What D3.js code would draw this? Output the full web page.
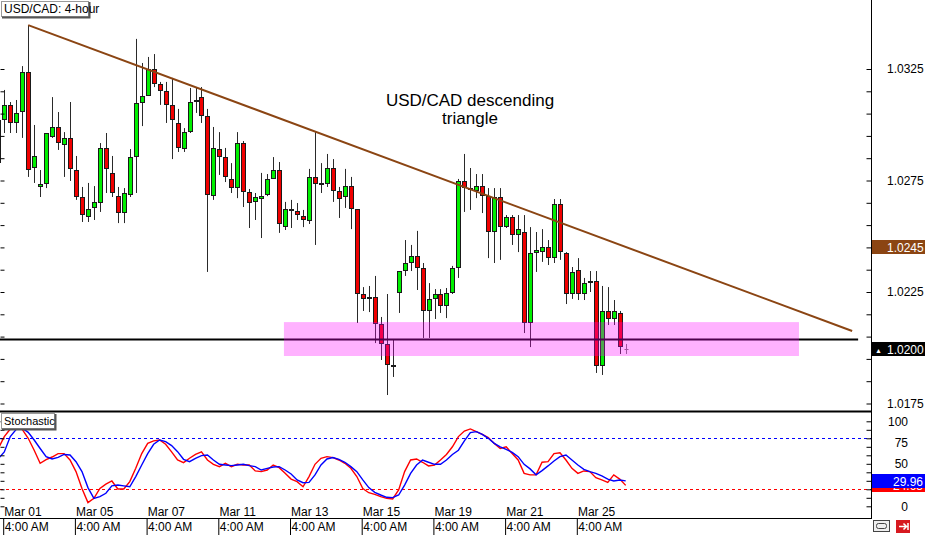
<!DOCTYPE html>
<html>
<head>
<meta charset="utf-8">
<style>
body { margin: 0; background: #fff; }
svg text { font-family: "Liberation Sans", Arial, sans-serif; }
.axis path.domain { display: none; }
.axis line { stroke: #000; }
.axis text { font-size: 12px; fill: #000; }
</style>
</head>
<body>
<script src="https://cdn.jsdelivr.net/npm/d3@7"></script>
<script>
// USD/CAD 4-hour candles, bar 0 = Mar 01 00:00
var opens  = [1.02828,1.03021,1.03089,1.03008,1.03057,1.03237,1.02806,1.02721,1.02734,1.02945,
              1.02990,1.02909,1.02941,1.02797,1.02676,1.02586,1.02627,1.02649,1.02896,1.02784,
              1.02680,1.02604,1.02685,1.02855,1.03098,1.03129,1.03250,1.03183,1.03151,1.03089,
              1.03008,1.02891,1.02967,1.03102,1.03124,1.03039,1.02680,1.02891,1.02855,1.02757,
              1.02716,1.02918,1.02698,1.02654,1.02667,1.02685,1.02757,1.02797,1.02541,1.02622,
              1.02613,1.02591,1.02568,1.02766,1.02734,1.02734,1.02806,1.02703,1.02676,1.02725,
              1.02622,1.02241,1.02219,1.02228,1.02107,1.02017,1.01923,1.02246,1.02344,1.02380,
              1.02411,1.02358,1.02165,1.02219,1.02241,1.02187,1.02246,1.02358,1.02748,1.02716,
              1.02703,1.02725,1.02680,1.02519,1.02676,1.02541,1.02586,1.02506,1.02519,1.02111,
              1.02425,1.02429,1.02452,1.02402,1.02645,1.02425,1.02241,1.02349,1.02241,1.02290,
              1.02299,1.01918,1.02165,1.02129,1.02156,1.01996];
var highs  = [1.03030,1.03156,1.03102,1.03111,1.03263,1.03447,1.02999,1.02797,1.02963,1.03124,
              1.03057,1.02967,1.03102,1.02860,1.02721,1.02739,1.02725,1.02918,1.02963,1.02860,
              1.02721,1.02716,1.02891,1.03385,1.03277,1.03304,1.03317,1.03192,1.03192,1.03210,
              1.03071,1.02985,1.03165,1.03169,1.03169,1.03071,1.02990,1.02967,1.02896,1.02828,
              1.02967,1.02927,1.02712,1.02694,1.02784,1.02779,1.02855,1.02833,1.02654,1.02663,
              1.02649,1.02618,1.02802,1.02967,1.02828,1.02869,1.02846,1.02721,1.02802,1.02766,
              1.02622,1.02272,1.02277,1.02322,1.02138,1.02241,1.02035,1.02344,1.02483,1.02461,
              1.02524,1.02380,1.02290,1.02263,1.02263,1.02268,1.02367,1.02757,1.02869,1.02806,
              1.02779,1.02779,1.02716,1.02716,1.02716,1.02595,1.02595,1.02595,1.02595,1.02541,
              1.02519,1.02532,1.02483,1.02667,1.02667,1.02429,1.02362,1.02402,1.02313,1.02344,
              1.02344,1.02277,1.02272,1.02214,1.02165,1.02017];
var lows   = [1.02820,1.02963,1.02963,1.02963,1.02941,1.02766,1.02739,1.02676,1.02716,1.02941,
              1.02887,1.02766,1.02748,1.02663,1.02564,1.02564,1.02573,1.02609,1.02694,1.02676,
              1.02559,1.02559,1.02676,1.02694,1.02994,1.03129,1.03169,1.03089,1.03008,1.02846,
              1.02878,1.02878,1.02963,1.03053,1.03008,1.02340,1.02663,1.02775,1.02743,1.02694,
              1.02671,1.02631,1.02537,1.02573,1.02492,1.02680,1.02757,1.02515,1.02528,1.02537,
              1.02573,1.02541,1.02555,1.02461,1.02694,1.02721,1.02654,1.02582,1.02627,1.02532,
              1.02111,1.02165,1.02160,1.02021,1.01945,1.01788,1.01869,1.02156,1.02322,1.02344,
              1.02259,1.02044,1.02044,1.02129,1.02156,1.02133,1.02241,1.02313,1.02609,1.02618,
              1.02671,1.02604,1.02402,1.02380,1.02394,1.02537,1.02461,1.02429,1.02066,1.02003,
              1.02340,1.02385,1.02371,1.02380,1.02394,1.02196,1.02219,1.02214,1.02214,1.02250,
              1.01887,1.01878,1.02102,1.02102,1.01972,1.01972];
var closes = [1.03021,1.03089,1.03008,1.03053,1.03237,1.02797,1.02860,1.02734,1.02963,1.02990,
              1.02918,1.02941,1.02802,1.02676,1.02595,1.02622,1.02654,1.02896,1.02802,1.02694,
              1.02604,1.02694,1.02855,1.03098,1.03129,1.03250,1.03183,1.03151,1.03089,1.03021,
              1.02896,1.02967,1.03102,1.03111,1.03039,1.02685,1.02896,1.02855,1.02766,1.02716,
              1.02918,1.02698,1.02649,1.02676,1.02680,1.02757,1.02797,1.02555,1.02622,1.02613,
              1.02595,1.02573,1.02766,1.02734,1.02739,1.02806,1.02703,1.02667,1.02725,1.02622,
              1.02241,1.02219,1.02228,1.02107,1.02017,1.01923,1.01914,1.02344,1.02380,1.02411,
              1.02358,1.02165,1.02219,1.02241,1.02187,1.02246,1.02358,1.02748,1.02716,1.02707,
              1.02725,1.02680,1.02519,1.02676,1.02541,1.02586,1.02506,1.02532,1.02111,1.02425,
              1.02438,1.02452,1.02402,1.02645,1.02429,1.02241,1.02340,1.02241,1.02290,1.02299,
              1.01918,1.02165,1.02129,1.02165,1.02003,1.01996];

// stochastic (red = main, blue = signal), one value per bar
var stochMain = [68,82,91,91.8,90.6,80,66,50.6,55,58,62,62,54.5,40.8,21,4.3,9.4,21,26,29.8,
                 20.4,20.4,29,44.7,62,74,77,78,73,64,54.5,51.4,56.5,61,64,54.5,49.4,46.7,50.6,46.7,
                 49.4,48.6,48.6,41.6,40.8,42.7,48.6,45.5,38.8,32,29,23,35,49.4,56.5,58.4,57.3,54.5,50.6,44.7,
                 35,21,16,14,11.4,9.4,8.6,19.2,40.8,54.5,55.7,51.8,47.5,48.6,54.5,61,70,82,88.6,91,
                 87.8,84.7,80.8,74,68,70,62,54.5,38.8,37,37,51.8,52.5,62,63,54.5,44.7,38.8,41.6,40.8,
                 33.7,31,28.2,36.9,32,24.63];
var stochSignal = [56,64,82,90.6,91.8,87,78,68,58.4,55.7,57.6,61,60.4,52.5,40.8,22,9.4,11.4,15.3,24,
                   25,24,23,35,48.6,62,73,78,76,71.4,64.3,55.3,52.5,56.5,59.6,60.4,54.5,49.4,48.6,47.8,
                   48.6,49.4,47.8,46.7,42.7,44.7,46.3,46.7,42.7,38,31,27.8,28.2,36.9,48.6,55.7,57.3,55.3,51.8,46.7,
                   40.8,31,22,16.5,13.3,10.6,10.2,13.3,25,38.8,48.6,54.5,51.8,49.4,49.4,54.5,61,66,76.9,86.7,
                   87.8,84.7,80,74,70,67,63.5,58.4,49.4,44,37,42,47.5,53.3,58.4,60.4,54.5,48.6,43.5,40.8,
                   38.8,35.7,32,29.8,31,29.96];

var dateBars   = [1, 13, 25, 37, 49, 61, 73, 85, 97];
var dateLabels = ["Mar 01","Mar 05","Mar 07","Mar 11","Mar 13","Mar 15","Mar 19","Mar 21","Mar 25"];
var timeLabel  = "4:00 AM";

var priceLabels = [1.0175, 1.0225, 1.0275, 1.0325];
var stochLabels = [0, 50, 75, 100];
var stochLevels = [80, 20];

// drawn objects
var trendLine   = [[5, 1.03447], [142.9, 1.02075]];
var supportLine = [[-2, 1.02037], [143.9, 1.02037]];
var zoneBars    = [47.8, 134];
var zonePrices  = [1.01963, 1.02115];

var width = 925, height = 535;
var axisX = 871;

var svg = d3.select("body").append("svg")
    .attr("width", width)
    .attr("height", height);

var x  = d3.scaleLinear().domain([1, 105]).range([4.3, 625.7]);
var y  = d3.scaleLinear().domain([1.0175, 1.0325]).range([403.5, 69]);
var ys = d3.scaleLinear().domain([0, 100]).range([506.3, 421.3]);

var defs = svg.append("defs");
defs.append("clipPath").attr("id", "clipMain")
  .append("rect").attr("x", 0).attr("y", 0).attr("width", axisX).attr("height", 410);
defs.append("clipPath").attr("id", "clipStoch")
  .append("rect").attr("x", 0).attr("y", 413).attr("width", axisX).attr("height", 104);

var bars = opens.map(function(o, i) {
  return {i: i, o: o, h: highs[i], l: lows[i], c: closes[i]};
});

var main = svg.append("g").attr("clip-path", "url(#clipMain)");

// candles
var px = function(d) { return Math.round(x(d.i)); };
main.append("g").selectAll("line")
    .data(bars)
    .enter().append("line")
    .attr("x1", function(d) { return px(d) + 0.5; })
    .attr("x2", function(d) { return px(d) + 0.5; })
    .attr("y1", function(d) { return y(d.h); })
    .attr("y2", function(d) { return y(d.l); })
    .attr("stroke", function(d) { return d.o == d.c ? "#777" : "#2a2a2a"; })
    .attr("stroke-width", 1);

main.append("g").selectAll("rect")
    .data(bars.filter(function(d) { return d.o != d.c; }))
    .enter().append("rect")
    .attr("x", function(d) { return px(d) - 1.5; })
    .attr("width", 4)
    .attr("y", function(d) { return Math.round(y(Math.max(d.o, d.c))) + 0.5; })
    .attr("height", function(d) { return Math.max(1, Math.round(Math.abs(y(d.o) - y(d.c))) - 1); })
    .attr("fill", function(d) { return d.c > d.o ? "#00f000" : "#f00000"; })
    .attr("stroke", "#1a1a1a")
    .attr("stroke-width", 1);

// doji
main.append("g").selectAll("line")
    .data(bars.filter(function(d) { return d.o == d.c; }))
    .enter().append("line")
    .attr("x1", function(d) { return px(d) - 1.5; })
    .attr("x2", function(d) { return px(d) + 2.5; })
    .attr("y1", function(d) { return Math.round(y(d.c)) + 0.5; })
    .attr("y2", function(d) { return Math.round(y(d.c)) + 0.5; })
    .attr("stroke", "#777");

var line = d3.line()
    .x(function(d) { return x(d[0]); })
    .y(function(d) { return y(d[1]); });

main.append("path")
    .datum(supportLine)
    .attr("d", line)
    .attr("stroke", "#000")
    .attr("stroke-width", 2)
    .attr("fill", "none");

main.append("path")
    .datum(trendLine)
    .attr("d", line)
    .attr("stroke", "#8b4513")
    .attr("stroke-width", 2)
    .attr("fill", "none");

// pink zone, drawn over the candles
main.append("rect")
    .attr("x", x(zoneBars[0]))
    .attr("width", x(zoneBars[1]) - x(zoneBars[0]))
    .attr("y", y(zonePrices[1]))
    .attr("height", y(zonePrices[0]) - y(zonePrices[1]))
    .attr("fill", "#ff00ff")
    .attr("opacity", 0.3);

main.append("text")
    .attr("x", 470).attr("y", 106)
    .attr("text-anchor", "middle")
    .style("font-size", "17px")
    .text("USD/CAD descending");
main.append("text")
    .attr("x", 470).attr("y", 124)
    .attr("text-anchor", "middle")
    .style("font-size", "17px")
    .text("triangle");

// stochastic panel
var stoch = svg.append("g").attr("clip-path", "url(#clipStoch)");

stoch.selectAll("line.level")
    .data(stochLevels)
    .enter().append("line")
    .attr("class", "level")
    .attr("x1", 0).attr("x2", axisX)
    .attr("y1", function(d) { return Math.round(ys(d)) + 0.5; })
    .attr("y2", function(d) { return Math.round(ys(d)) + 0.5; })
    .attr("stroke", function(d) { return d > 50 ? "#0000ff" : "#ff0000"; })
    .attr("stroke-dasharray", "3,3");

var sline = d3.line()
    .x(function(d, i) { return x(i); })
    .y(function(d) { return ys(d); });

stoch.append("path")
    .datum(stochMain)
    .attr("d", sline)
    .attr("fill", "none")
    .attr("stroke", "#ff0000")
    .attr("stroke-width", 1.4);

stoch.append("path")
    .datum(stochSignal)
    .attr("d", sline)
    .attr("fill", "none")
    .attr("stroke", "#0000ff")
    .attr("stroke-width", 1.4);

// frame lines
svg.append("line").attr("x1", 0).attr("x2", axisX).attr("y1", 411.5).attr("y2", 411.5)
    .attr("stroke", "#000").attr("stroke-width", 2);
svg.append("line").attr("x1", 0).attr("x2", axisX).attr("y1", 518.5).attr("y2", 518.5)
    .attr("stroke", "#000");
svg.append("line").attr("x1", axisX + 0.5).attr("x2", axisX + 0.5).attr("y1", 0).attr("y2", 519)
    .attr("stroke", "#000");

// price axis
var minorPrice = d3.range(0, 16).map(function(k) { return +(1.0175 + k * 0.001).toFixed(4); });
svg.append("g").attr("class", "axis")
    .attr("transform", "translate(" + (axisX + 0.5) + ",0)")
    .call(d3.axisLeft(y).tickValues(minorPrice).tickSize(5).tickFormat(""));
svg.append("g").attr("class", "axis")
    .attr("transform", "translate(0.5,0)")
    .call(d3.axisRight(y).tickValues(minorPrice).tickSize(4).tickFormat(""));
svg.append("g").attr("class", "axis")
    .attr("transform", "translate(" + axisX + ",0)")
    .call(d3.axisRight(y).tickValues(priceLabels).tickSize(0).tickPadding(16)
      .tickFormat(d3.format(".4f")));

// stochastic axis
var minorStoch = d3.range(0, 101, 10);
svg.append("g").attr("class", "axis")
    .attr("transform", "translate(" + (axisX + 0.5) + ",0)")
    .call(d3.axisLeft(ys).tickValues(minorStoch).tickSize(5).tickFormat(""));
svg.append("g").attr("class", "axis")
    .attr("transform", "translate(0.5,0)")
    .call(d3.axisRight(ys).tickValues(minorStoch).tickSize(4).tickFormat(""));
svg.append("g").attr("class", "axis")
    .attr("transform", "translate(" + axisX + ",0)")
    .call(d3.axisRight(ys).tickValues(stochLabels).tickSize(0).tickPadding(37))
  .selectAll("text").attr("text-anchor", "end");

// value boxes on the right
function valueBox(yy, bg, txt, anchorEnd, clipId) {
  var g = svg.append("g");
  g.append("rect").attr("x", axisX + 1).attr("y", Math.round(yy) - 7)
    .attr("width", width - axisX - 1).attr("height", 14).attr("fill", bg);
  g.append("text")
    .attr("x", anchorEnd ? 923 : 887).attr("y", Math.round(yy) + 4.5)
    .attr("text-anchor", anchorEnd ? "end" : "start")
    .attr("clip-path", clipId ? "url(#" + clipId + ")" : null)
    .style("font-size", "12px").attr("fill", "#fff").text(txt);
  return g;
}
var trendAt = function(i) {
  var t = (i - trendLine[0][0]) / (trendLine[1][0] - trendLine[0][0]);
  return trendLine[0][1] + t * (trendLine[1][1] - trendLine[0][1]);
};
var last = closes.length - 1;
valueBox(y(trendAt(last)), "#8b4513", d3.format(".4f")(trendAt(last)), false);
var bid = valueBox(y(closes[last]), "#000", d3.format(".4f")(closes[last]), false);
bid.append("text").attr("x", 875).attr("y", Math.round(y(closes[last])) + 3.5)
    .style("font-size", "7px").attr("fill", "#fff").text("\u25B2");

// the red value box sits under the blue one; only its lower strip shows
var blueBottom = Math.round(ys(stochSignal[last])) + 7;
defs.append("clipPath").attr("id", "clipRedTxt")
  .append("rect").attr("x", axisX).attr("y", blueBottom).attr("width", 60).attr("height", 20);
valueBox(ys(stochMain[last]), "#ff0000", d3.format(".2f")(stochMain[last]), true, "clipRedTxt");
valueBox(ys(stochSignal[last]), "#0000ff", d3.format(".2f")(stochSignal[last]), true);

// time axis: dates row and time row
var dateAxis = svg.append("g").attr("class", "axis")
    .attr("transform", "translate(0,507)")
    .call(d3.axisBottom(x).tickValues(dateBars).tickSize(0).tickPadding(0)
      .tickFormat(function(d, i) { return dateLabels[i]; }));
dateAxis.selectAll("text").attr("text-anchor", "start").attr("dx", -0.5);

var timeAxis = svg.append("g").attr("class", "axis")
    .attr("transform", "translate(-1.6,518)")
    .call(d3.axisBottom(x).tickValues(dateBars).tickSize(17)
      .tickFormat(function() { return timeLabel; }));
timeAxis.selectAll("line").attr("transform", "translate(0.5,0)");
timeAxis.selectAll("text").attr("text-anchor", "start").attr("x", 1.5).attr("y", 4);

// labels in the corners of the panels
function tag(x0, y0, w, txt, fs) {
  var g = svg.append("g");
  g.append("rect").attr("x", x0 + 0.5).attr("y", y0 + 0.5).attr("width", w).attr("height", 15)
    .attr("fill", "#fff").attr("stroke", "#9a9a9a");
  g.append("path")
    .attr("d", "M" + (x0 + w + 1.5) + "," + (y0 + 1) + "V" + (y0 + 16.5) + "H" + (x0 + 1))
    .attr("stroke", "#555").attr("stroke-width", 2).attr("fill", "none");
  g.append("text").attr("x", x0 + 3).attr("y", y0 + 12).style("font-size", fs + "px").text(txt);
}
tag(1, 1, 87, "USD/CAD: 4-hour", 12);
tag(1, 413, 53, "Stochastic", 11);

// little buttons at the bottom right
var btn = svg.append("g");
btn.append("rect").attr("x", 873.5).attr("y", 520.5).attr("width", 16).attr("height", 11)
    .attr("fill", "#eee").attr("stroke", "#444");
btn.append("rect").attr("x", 876.5).attr("y", 523.5).attr("width", 10).attr("height", 5)
    .attr("fill", "none").attr("stroke", "#444").attr("rx", 2);
btn.append("rect").attr("x", 896).attr("y", 520).attr("width", 14).attr("height", 13)
    .attr("fill", "#d71920");
btn.append("path").attr("d", "M899,526.5H906M903.5,523.5L906.5,526.5L903.5,529.5M908,523V530")
    .attr("stroke", "#fff").attr("stroke-width", 1.5).attr("fill", "none");
</script>
</body>
</html>
